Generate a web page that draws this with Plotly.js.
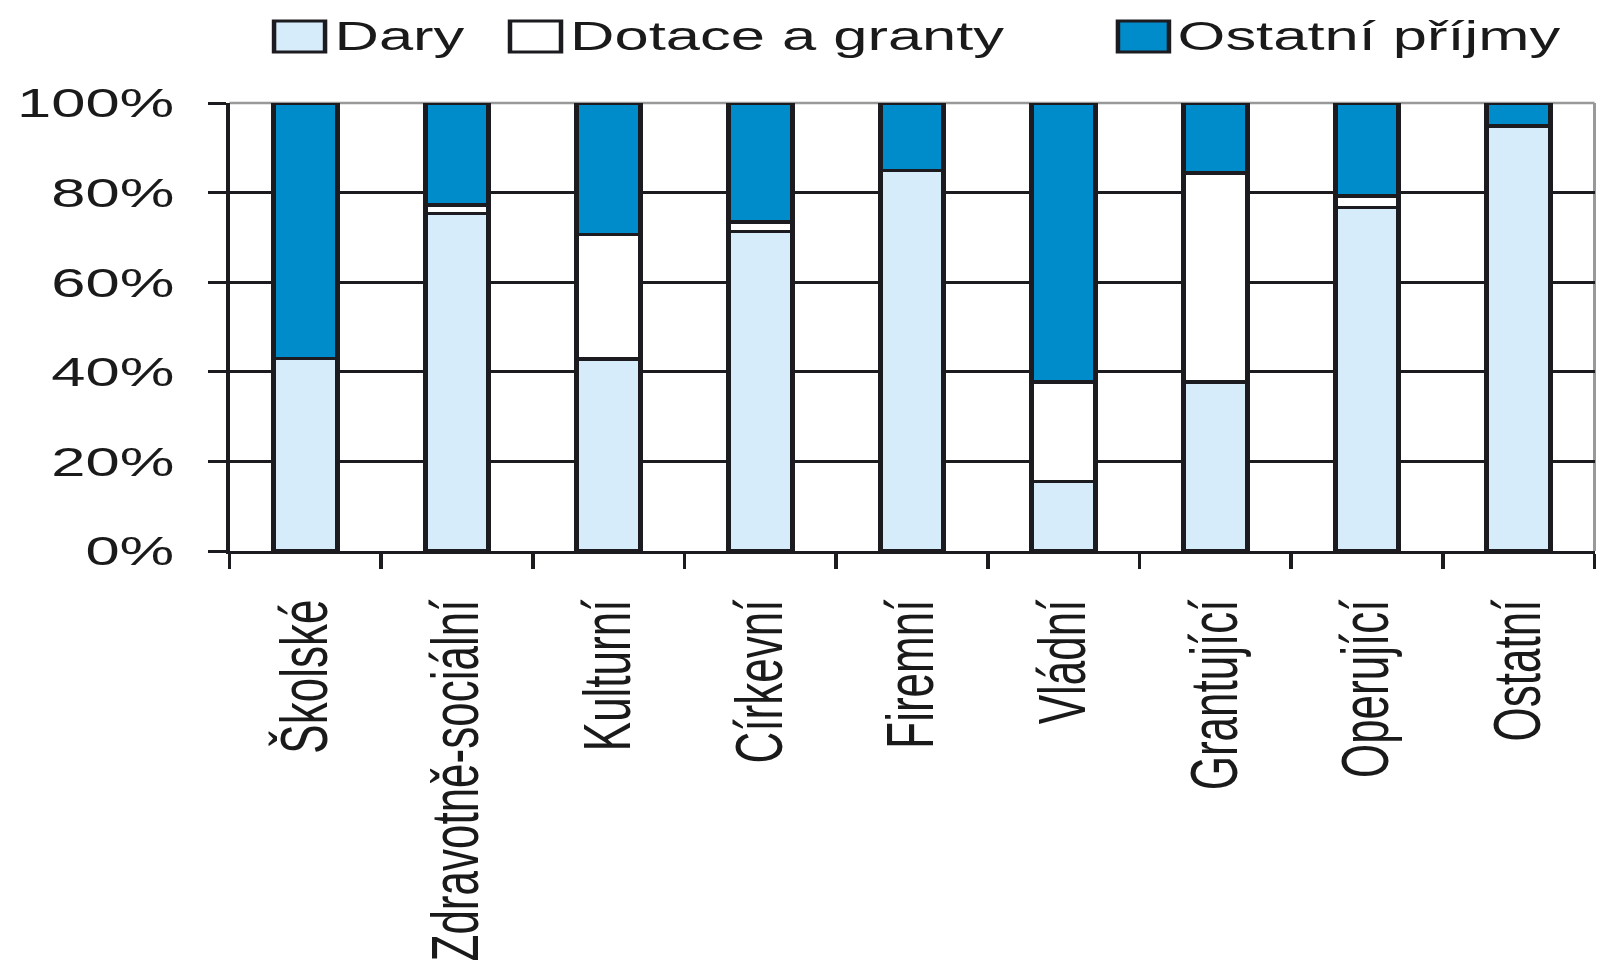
<!DOCTYPE html>
<html><head><meta charset="utf-8">
<script src="https://cdn.plot.ly/plotly-3.0.1.min.js"></script>
<style>
html,body{margin:0;padding:0;background:#fff;overflow:hidden;width:1598px;height:974px;}
#wrap{width:1066px;height:974px;transform:scaleX(1.5);transform-origin:0 0;}
</style></head><body><div id="wrap"><div id="chart" style="width:1066px;height:974px"></div></div>
<script>
const categories = ["Školské","Zdravotně-sociální","Kulturní","Církevní","Firemní","Vládní","Grantující","Operující","Ostatní"];
const dary    = [43.0, 75.4, 42.9, 71.3, 85.0, 15.5, 37.7, 76.7, 94.9];
const dotace  = [0.0,  1.8, 27.8,  2.1,  0.0, 22.2, 46.7,  2.5,  0.0];
const ostatni = [57.0, 22.8, 29.3, 26.6, 15.0, 62.3, 15.6, 20.8,  5.1];
const seriesNames = ["Dary","Dotace a granty","Ostatní příjmy"];
const seriesColors = ["#D6ECFA","#FFFFFF","#008BCA"];
const yTicks = [0,20,40,60,80,100];

const INK = "#1c1c20";
const FONT = "Liberation Sans, Arial, sans-serif";
const W = 1066, H = 974;
const mL = 153, mR = 3, mT = 103, mB = 423;
const pW = W - mL - mR, pH = H - mT - mB;
const px = x => (x - mL) / pW;
const py = y => (H - mB - y) / pH;

const values = [dary, dotace, ostatni];
const traces = values.map((v, i) => ({
  type: "bar", x: categories, y: v, name: seriesNames[i],
  marker: {color: seriesColors[i], line: {color: INK, width: 3.4}},
  hoverinfo: "skip"
}));

// legend built from series names/colours
const legBoxX = [182.7, 340, 745.3];
const shapes = [
  {type:"line", xref:"paper", yref:"paper", x0:0, x1:1, y0:1, y1:1, line:{color:"#999999", width:2.5}, layer:"between"},
  {type:"line", xref:"paper", yref:"paper", x0:1, x1:1, y0:0, y1:1, line:{color:"#999999", width:2}, layer:"between"}
];
const annotations = [];
seriesNames.forEach((n, i) => {
  shapes.push({type:"rect", xref:"paper", yref:"paper",
    x0: px(legBoxX[i]), x1: px(legBoxX[i] + 34), y0: py(52), y1: py(21),
    fillcolor: seriesColors[i], line:{color: INK, width: 3}});
  annotations.push({xref:"paper", yref:"paper", x: px(legBoxX[i] + 38), y: py(36),
    xanchor:"left", yanchor:"middle", showarrow:false, text:n,
    font:{family: FONT, size: 41, color: "#1a1a1a"}});
});

const layout = {
  width: W, height: H,
  margin: {l: mL, r: mR, t: mT, b: mB, autoexpand: false},
  paper_bgcolor: "#fff", plot_bgcolor: "#fff",
  barmode: "stack", bargap: 0.58, showlegend: false,
  font: {family: FONT, color: "#1a1a1a"},
  xaxis: {
    type: "category", tickson: "boundaries", showgrid: false,
    showline: true, linecolor: INK, linewidth: 3,
    ticks: "outside", ticklen: 15, tickwidth: 2.5, tickcolor: INK,
    tickangle: -90, tickfont: {family: FONT, size: 44, color: "#1a1a1a"},
    ticklabelstandoff: 28, automargin: false, fixedrange: true
  },
  yaxis: {
    range: [0, 100], tickvals: yTicks, ticktext: yTicks.map(t => t + "%"),
    showgrid: true, gridcolor: INK, gridwidth: 3,
    showline: true, linecolor: INK, linewidth: 2.6,
    ticks: "outside", ticklen: 12, tickwidth: 3, tickcolor: INK,
    tickfont: {family: FONT, size: 41, color: "#1a1a1a"},
    ticklabelstandoff: 14, zeroline: false, automargin: false, fixedrange: true
  },
  shapes: shapes, annotations: annotations
};
Plotly.newPlot("chart", traces, layout, {staticPlot: true, displayModeBar: false});
</script></body></html>
